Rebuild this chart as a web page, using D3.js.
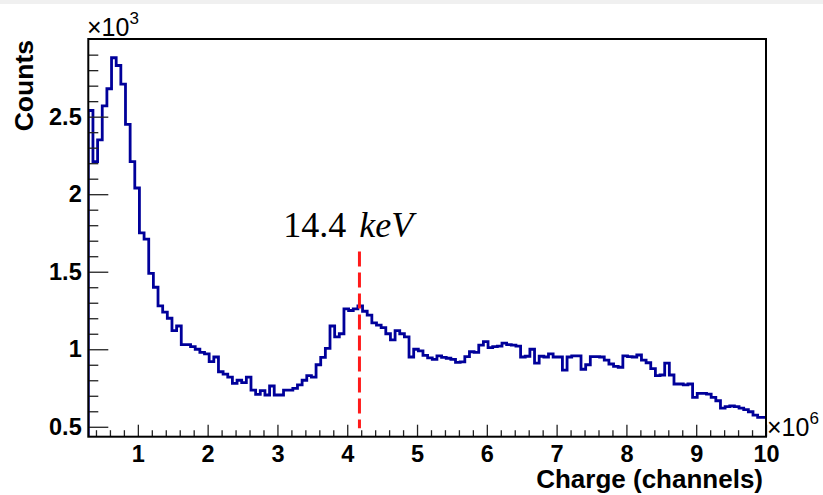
<!DOCTYPE html>
<html>
<head>
<meta charset="utf-8">
<script src="https://cdn.jsdelivr.net/npm/d3@7"></script>
<style>
  body { margin: 0; background: #fff; }
  svg { display: block; }
  .tick text { font-family: "Liberation Sans", Arial, Helvetica, sans-serif; font-weight: bold; font-size: 23.5px; fill: #000; }
</style>
</head>
<body>
<svg id="chart" width="823" height="495"></svg>
<script>
// histogram binning (charge, channels)
var binStart = 0.29e6,
    binWidth = 0.0666e6;

// counts per bin
var counts = [
    2540, 2210, 2350, 2570, 2680, 2880, 2830, 2710, 2450, 2210,
    2040, 1750, 1710, 1490, 1400, 1280, 1240, 1200, 1120, 1150,
    1030, 1030, 1017, 1000, 980, 970, 920, 950, 855, 840,
    820, 780, 800, 785, 820, 737, 709, 733, 705, 763,
    705, 705, 737, 737, 748, 770, 800, 830, 820, 900,
    948, 1006, 1150, 1080, 1100, 1260, 1250, 1260, 1280, 1245,
    1220, 1170, 1155, 1140, 1100, 1060, 1120, 1100, 1080, 950,
    1000, 990, 960, 945, 935, 957, 948, 942, 935, 915,
    918, 952, 984, 980, 1027, 1049, 1010, 1017, 1020, 1040,
    1030, 1027, 1020, 950, 955, 1000, 910, 955, 950, 970,
    950, 950, 866, 950, 957, 957, 871, 900, 952, 952,
    950, 930, 905, 890, 884, 957, 952, 950, 963, 930,
    913, 875, 830, 834, 910, 834, 776, 776, 770, 776,
    690, 716, 715, 710, 690, 668, 620, 630, 634, 630,
    620, 610, 597, 575, 561, 561
];

var xTicks = [1e6, 2e6, 3e6, 4e6, 5e6, 6e6, 7e6, 8e6, 9e6, 10e6];
var yTicks = [500, 1000, 1500, 2000, 2500];

// 14.4 keV marker
var markerX = 4.175e6,
    markerY = [490, 1630];

var margin = { left: 88.3, right: 766, top: 39, bottom: 436.7 };

var x = d3.scaleLinear().domain([0.29e6, 10e6]).range([margin.left, margin.right]);
var y = d3.scaleLinear().domain([436, 3001]).range([margin.bottom, margin.top]);

var svg = d3.select("#chart");

svg.append("rect")
    .attr("x", 0).attr("y", 0)
    .attr("width", 823).attr("height", 4)
    .attr("fill", "#f0f0f0");

svg.append("clipPath")
    .attr("id", "frame-clip")
    .append("rect")
    .attr("x", margin.left).attr("y", margin.top)
    .attr("width", margin.right - margin.left)
    .attr("height", margin.bottom - margin.top);

// step outline, starting from the bottom of the frame like ROOT does
var pts = [[binStart, y.domain()[0]]];
counts.forEach(function (c, i) {
    pts.push([binStart + i * binWidth, c]);
});
pts.push([binStart + counts.length * binWidth, counts[counts.length - 1]]);

var line = d3.line()
    .x(function (d) { return x(d[0]); })
    .y(function (d) { return y(d[1]); })
    .curve(d3.curveStepAfter);

svg.append("path")
    .datum(pts)
    .attr("clip-path", "url(#frame-clip)")
    .attr("d", line)
    .attr("fill", "none")
    .attr("stroke", "#00009a")
    .attr("stroke-width", 2.8);

// axes
var yMinor = d3.range(600, 3001, 100).filter(function (v) { return v % 500 != 0; });
var xMinor = d3.range(4, 100, 2).map(function (v) { return v * 1e5; })
    .filter(function (v) { return v % 1e6 != 0; });

svg.append("g")
    .attr("transform", "translate(" + margin.left + ",0)")
    .call(d3.axisLeft(y).tickValues(yMinor).tickSizeInner(-10).tickSizeOuter(0).tickFormat(""))
    .call(function (g) { g.select(".domain").remove(); });

svg.append("g")
    .attr("transform", "translate(" + margin.left + ",0)")
    .call(d3.axisLeft(y).tickValues(yTicks).tickSizeInner(-20).tickSizeOuter(0).tickPadding(6.6)
        .tickFormat(function (d) { return d / 1000; }))
    .call(function (g) { g.select(".domain").remove(); });

svg.append("g")
    .attr("transform", "translate(0," + margin.bottom + ")")
    .call(d3.axisBottom(x).tickValues(xMinor).tickSizeInner(-6.5).tickSizeOuter(0).tickFormat(""))
    .call(function (g) { g.select(".domain").remove(); });

svg.append("g")
    .attr("transform", "translate(0," + margin.bottom + ")")
    .call(d3.axisBottom(x).tickValues(xTicks).tickSizeInner(-12).tickSizeOuter(0).tickPadding(9)
        .tickFormat(function (d) { return d / 1e6; }))
    .call(function (g) { g.select(".domain").remove(); });

svg.selectAll(".tick line").attr("stroke", "#222").attr("stroke-width", 1.3);

// frame
svg.append("rect")
    .attr("x", margin.left).attr("y", margin.top)
    .attr("width", margin.right - margin.left)
    .attr("height", margin.bottom - margin.top)
    .attr("fill", "none")
    .attr("stroke", "#000")
    .attr("stroke-width", 2);

// marker line
svg.append("line")
    .attr("x1", x(markerX)).attr("x2", x(markerX))
    .attr("y1", y(markerY[1])).attr("y2", y(markerY[0]))
    .attr("stroke", "#ff1a1a")
    .attr("stroke-width", 3)
    .attr("stroke-dasharray", "15,6");

var label = svg.append("text")
    .attr("x", 283.3).attr("y", 236.7)
    .style("font-family", "'Liberation Serif', 'Times New Roman', serif")
    .style("font-size", "36px")
    .attr("fill", "#000");
label.append("tspan").text("14.4");
label.append("tspan").attr("dx", 13).style("font-style", "italic").text("keV");

// titles
var sans = "'Liberation Sans', Arial, Helvetica, sans-serif";

svg.append("text")
    .attr("transform", "translate(33,40) rotate(-90)")
    .attr("text-anchor", "end")
    .style("font-family", sans).style("font-weight", "bold").style("font-size", "26.5px")
    .text("Counts");

svg.append("text")
    .attr("x", 763).attr("y", 488)
    .attr("text-anchor", "end")
    .style("font-family", sans).style("font-weight", "bold").style("font-size", "26px")
    .text("Charge (channels)");

// exponent labels
function expLabel(px, py, exp) {
    var t = svg.append("text")
        .attr("x", px).attr("y", py)
        .style("font-family", sans).style("font-size", "25px");
    t.append("tspan").text("\u00d710");
    t.append("tspan").attr("dy", -12).style("font-size", "17px").text(exp);
}
expLabel(87, 36, "3");
expLabel(767, 436, "6");
</script>
</body>
</html>
